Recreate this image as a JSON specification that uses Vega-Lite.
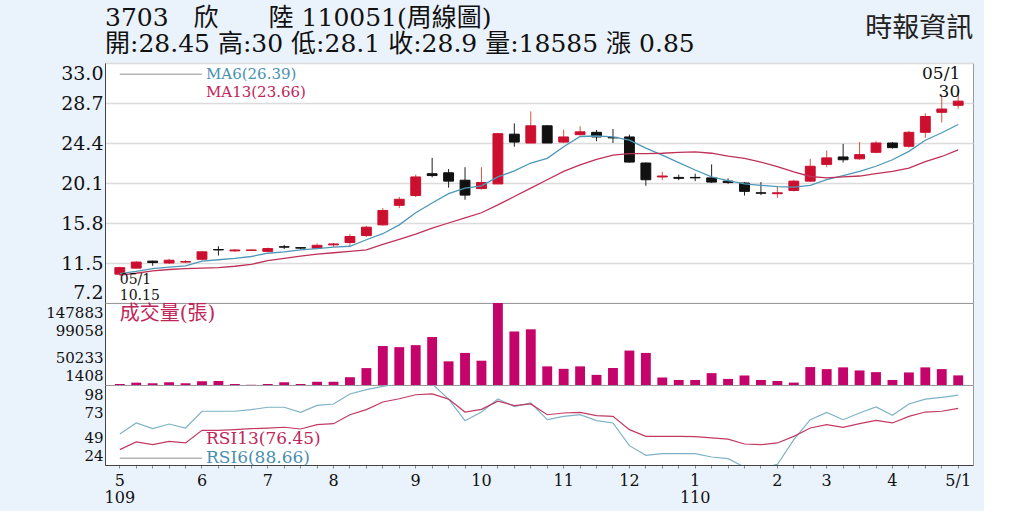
{
  "$schema": "https://vega.github.io/schema/vega-lite/v6.json",
  "background": "#eaf2fb",
  "padding": {"left": 45, "top": 5, "right": 10, "bottom": 5},
  "bounds": "flush",
  "title": {
    "text": ["3703　欣　　陸 110051(周線圖)", "開:28.45 高:30 低:28.1 收:28.9 量:18585 漲 0.85"],
    "anchor": "start",
    "frame": "group",
    "font": "DejaVu Serif, Noto Sans CJK TC",
    "fontSize": 25,
    "fontWeight": "normal",
    "color": "#111111",
    "lineHeight": 26,
    "offset": -42
  },
  "config": {
    "font": "DejaVu Serif, Noto Sans CJK TC",
    "view": {"fill": "#ffffff", "stroke": "#9a9a9a", "strokeWidth": 1},
    "axis": {
      "labelFont": "DejaVu Serif",
      "labelFontSize": 19,
      "labelColor": "#111111",
      "domainColor": "#444444",
      "ticks": false,
      "labelPadding": 2,
      "labelOverlap": false,
      "title": null,
      "grid": false
    }
  },
  "datasets": {
    "wk": [
      {"w": "2020-05-01", "o": 10.3, "h": 11.1, "l": 10.15, "c": 11.0, "v": 3200, "m6": 10.35, "m13": 10.2, "r6": 52.7, "r13": 38.2},
      {"w": "2020-05-08", "o": 10.95, "h": 11.7, "l": 10.9, "c": 11.6, "v": 5600, "m6": 10.6, "m13": 10.4, "r6": 62.9, "r13": 45.3},
      {"w": "2020-05-15", "o": 11.7, "h": 11.75, "l": 11.2, "c": 11.55, "v": 4500, "m6": 10.9, "m13": 10.65, "r6": 57.6, "r13": 42.8},
      {"w": "2020-05-22", "o": 11.5, "h": 11.95, "l": 11.4, "c": 11.8, "v": 6300, "m6": 11.05, "m13": 10.8, "r6": 61.9, "r13": 45.9},
      {"w": "2020-05-29", "o": 11.6, "h": 11.8, "l": 11.5, "c": 11.65, "v": 4500, "m6": 11.2, "m13": 10.9, "r6": 58.2, "r13": 44.4},
      {"w": "2020-06-05", "o": 11.9, "h": 12.8, "l": 11.8, "c": 12.7, "v": 8100, "m6": 11.7, "m13": 10.95, "r6": 73.7, "r13": 56.1},
      {"w": "2020-06-12", "o": 12.95, "h": 13.3, "l": 12.3, "c": 12.9, "v": 8600, "m6": 11.85, "m13": 11.0, "r6": 73.7, "r13": 56.1},
      {"w": "2020-06-19", "o": 12.8, "h": 13.0, "l": 12.7, "c": 12.9, "v": 3200, "m6": 12.0, "m13": 11.15, "r6": 73.7, "r13": 56.7},
      {"w": "2020-06-26", "o": 12.85, "h": 12.95, "l": 12.8, "c": 12.9, "v": 1800, "m6": 12.2, "m13": 11.35, "r6": 75.2, "r13": 57.6},
      {"w": "2020-07-03", "o": 12.75, "h": 13.15, "l": 12.7, "c": 13.05, "v": 3200, "m6": 12.55, "m13": 11.75, "r6": 77.4, "r13": 58.2},
      {"w": "2020-07-10", "o": 13.25, "h": 13.45, "l": 13.0, "c": 13.2, "v": 6300, "m6": 12.7, "m13": 12.0, "r6": 77.4, "r13": 58.9},
      {"w": "2020-07-17", "o": 13.15, "h": 13.2, "l": 13.0, "c": 13.1, "v": 3200, "m6": 12.9, "m13": 12.25, "r6": 72.7, "r13": 57.3},
      {"w": "2020-07-24", "o": 13.1, "h": 13.6, "l": 13.0, "c": 13.4, "v": 7200, "m6": 13.05, "m13": 12.45, "r6": 79.2, "r13": 61.3},
      {"w": "2020-07-31", "o": 13.45, "h": 13.65, "l": 13.25, "c": 13.55, "v": 7200, "m6": 13.2, "m13": 12.6, "r6": 80.4, "r13": 62.2},
      {"w": "2020-08-07", "o": 13.7, "h": 14.6, "l": 13.3, "c": 14.35, "v": 15300, "m6": 13.3, "m13": 12.75, "r6": 89.7, "r13": 70.5},
      {"w": "2020-08-14", "o": 14.45, "h": 15.5, "l": 14.3, "c": 15.35, "v": 31600, "m6": 14.0, "m13": 12.9, "r6": 93.7, "r13": 75.2},
      {"w": "2020-08-21", "o": 15.6, "h": 17.4, "l": 15.5, "c": 17.15, "v": 71000, "m6": 14.65, "m13": 13.5, "r6": 96.8, "r13": 82.3},
      {"w": "2020-08-28", "o": 17.7, "h": 18.6, "l": 17.4, "c": 18.35, "v": 69000, "m6": 15.6, "m13": 14.05, "r6": 99.5, "r13": 85.3},
      {"w": "2020-09-04", "o": 18.75, "h": 21.0, "l": 18.6, "c": 20.75, "v": 72600, "m6": 16.9, "m13": 14.6, "r6": 101, "r13": 89},
      {"w": "2020-09-11", "o": 21.1, "h": 22.8, "l": 20.7, "c": 20.9, "v": 87100, "m6": 17.95, "m13": 15.25, "r6": 99, "r13": 89.7},
      {"w": "2020-09-18", "o": 21.2, "h": 21.6, "l": 19.6, "c": 20.3, "v": 43700, "m6": 18.95, "m13": 15.8, "r6": 85, "r13": 85},
      {"w": "2020-09-25", "o": 20.4, "h": 21.8, "l": 18.3, "c": 18.8, "v": 58700, "m6": 19.55, "m13": 16.35, "r6": 65, "r13": 73},
      {"w": "2020-10-02", "o": 19.5, "h": 21.8, "l": 19.4, "c": 20.15, "v": 44800, "m6": 19.8, "m13": 16.9, "r6": 73, "r13": 75.5},
      {"w": "2020-10-09", "o": 20.0, "h": 25.5, "l": 20.0, "c": 25.4, "v": 147883, "m6": 20.75, "m13": 17.75, "r6": 85, "r13": 83},
      {"w": "2020-10-16", "o": 25.35, "h": 26.5, "l": 24.0, "c": 24.5, "v": 97000, "m6": 21.4, "m13": 18.65, "r6": 78, "r13": 79},
      {"w": "2020-10-23", "o": 24.4, "h": 27.8, "l": 24.4, "c": 26.25, "v": 100900, "m6": 22.25, "m13": 19.55, "r6": 81.5, "r13": 80.5},
      {"w": "2020-10-30", "o": 26.25, "h": 26.3, "l": 24.4, "c": 24.4, "v": 34700, "m6": 22.75, "m13": 20.45, "r6": 65.9, "r13": 70.5},
      {"w": "2020-11-06", "o": 24.5, "h": 25.85, "l": 24.4, "c": 25.05, "v": 30300, "m6": 24.0, "m13": 21.35, "r6": 69, "r13": 72.1},
      {"w": "2020-11-13", "o": 25.3, "h": 26.2, "l": 25.2, "c": 25.6, "v": 34700, "m6": 25.1, "m13": 22.05, "r6": 70.5, "r13": 72.7},
      {"w": "2020-11-20", "o": 25.55, "h": 25.8, "l": 24.6, "c": 25.05, "v": 19500, "m6": 25.15, "m13": 22.65, "r6": 65, "r13": 69.6},
      {"w": "2020-11-27", "o": 25.0, "h": 25.9, "l": 24.4, "c": 24.95, "v": 31600, "m6": 25.05, "m13": 23.1, "r6": 62.9, "r13": 69},
      {"w": "2020-12-04", "o": 25.05, "h": 25.3, "l": 22.3, "c": 22.35, "v": 62900, "m6": 24.7, "m13": 23.25, "r6": 41.9, "r13": 56.7},
      {"w": "2020-12-11", "o": 22.25, "h": 22.3, "l": 19.8, "c": 20.45, "v": 58700, "m6": 23.85, "m13": 23.25, "r6": 33, "r13": 50.5},
      {"w": "2020-12-18", "o": 20.75, "h": 21.3, "l": 20.4, "c": 20.85, "v": 14800, "m6": 23.1, "m13": 23.3, "r6": 34.5, "r13": 50.5},
      {"w": "2020-12-25", "o": 20.7, "h": 21.0, "l": 20.4, "c": 20.6, "v": 10400, "m6": 22.3, "m13": 23.4, "r6": 34.5, "r13": 50.5},
      {"w": "2021-01-01", "o": 20.7, "h": 21.1, "l": 20.3, "c": 20.65, "v": 10400, "m6": 21.5, "m13": 23.45, "r6": 34.5, "r13": 50.2},
      {"w": "2021-01-08", "o": 20.65, "h": 22.1, "l": 20.1, "c": 20.2, "v": 22600, "m6": 20.75, "m13": 23.3, "r6": 31.4, "r13": 49},
      {"w": "2021-01-15", "o": 20.3, "h": 20.6, "l": 20.0, "c": 20.15, "v": 12300, "m6": 20.35, "m13": 23.0, "r6": 29.9, "r13": 48},
      {"w": "2021-01-22", "o": 20.1, "h": 20.2, "l": 18.75, "c": 19.2, "v": 18400, "m6": 20.0, "m13": 22.75, "r6": 22, "r13": 43.4},
      {"w": "2021-01-29", "o": 19.05, "h": 20.2, "l": 18.8, "c": 19.0, "v": 10400, "m6": 19.85, "m13": 22.35, "r6": 21, "r13": 42.8},
      {"w": "2021-02-05", "o": 18.95, "h": 19.75, "l": 18.5, "c": 19.05, "v": 8600, "m6": 19.7, "m13": 21.85, "r6": 24.5, "r13": 44.4},
      {"w": "2021-02-19", "o": 19.3, "h": 20.45, "l": 19.2, "c": 20.3, "v": 5700, "m6": 19.65, "m13": 21.3, "r6": 47.4, "r13": 50.5},
      {"w": "2021-02-26", "o": 20.3, "h": 22.7, "l": 20.2, "c": 21.9, "v": 33400, "m6": 19.85, "m13": 20.8, "r6": 65.9, "r13": 58.2},
      {"w": "2021-03-05", "o": 22.1, "h": 23.6, "l": 21.8, "c": 22.8, "v": 29800, "m6": 20.45, "m13": 20.65, "r6": 72.7, "r13": 61.3},
      {"w": "2021-03-12", "o": 22.9, "h": 24.3, "l": 22.3, "c": 22.6, "v": 32900, "m6": 20.9, "m13": 20.75, "r6": 65.9, "r13": 58.9},
      {"w": "2021-03-19", "o": 22.7, "h": 24.5, "l": 22.6, "c": 23.15, "v": 27400, "m6": 21.35, "m13": 20.85, "r6": 72.1, "r13": 62.2},
      {"w": "2021-03-26", "o": 23.4, "h": 24.6, "l": 23.3, "c": 24.4, "v": 24400, "m6": 21.9, "m13": 21.1, "r6": 77.7, "r13": 65.3},
      {"w": "2021-04-02", "o": 24.4, "h": 24.5, "l": 23.8, "c": 23.9, "v": 10400, "m6": 22.6, "m13": 21.35, "r6": 70, "r13": 62.9},
      {"w": "2021-04-09", "o": 24.05, "h": 25.7, "l": 23.9, "c": 25.55, "v": 23800, "m6": 23.5, "m13": 21.7, "r6": 80.4, "r13": 69},
      {"w": "2021-04-16", "o": 25.55, "h": 27.6, "l": 24.95, "c": 27.25, "v": 32900, "m6": 24.7, "m13": 22.4, "r6": 85, "r13": 73},
      {"w": "2021-04-23", "o": 27.7, "h": 29.6, "l": 26.6, "c": 28.05, "v": 29800, "m6": 25.5, "m13": 22.95, "r6": 86.6, "r13": 73.7},
      {"w": "2021-04-30", "o": 28.45, "h": 30, "l": 28.1, "c": 28.9, "v": 18585, "m6": 26.39, "m13": 23.66, "r6": 88.66, "r13": 76.45}
    ]
  },
  "data": {"name": "wk"},
  "spacing": 0,
  "resolve": {"scale": {"x": "shared", "y": "independent"}},
  "vconcat": [
    {
      "width": 868,
      "height": 240,
      "encoding": {
        "x": {"field": "w", "type": "ordinal", "scale": {"paddingInner": 0.4, "paddingOuter": 0.6}, "axis": null}
      },
      "layer": [
        {
          "mark": {"type": "rule", "strokeWidth": 1},
          "encoding": {
            "y": {
              "field": "l", "type": "quantitative",
              "scale": {"domain": [7.2, 33], "nice": false, "zero": false},
              "axis": {"values": [7.2, 11.5, 15.8, 20.1, 24.4, 28.7, 33.0], "tickCount": 20, "format": ".1f", "grid": true, "gridColor": "#dcdcdc", "gridWidth": 1.5, "labelFlush": true, "labelFlushOffset": -1, "labelOverlap": false}
            },
            "y2": {"field": "h"},
            "color": {"condition": {"test": "datum.c >= datum.o", "value": "#d2573f"}, "value": "#222222"}
          }
        },
        {
          "mark": {"type": "bar", "strokeWidth": 1},
          "encoding": {
            "y": {"field": "o", "type": "quantitative"},
            "y2": {"field": "c"},
            "color": {"condition": {"test": "datum.c >= datum.o", "value": "#cc0f2f"}, "value": "#111111"},
            "stroke": {"condition": {"test": "datum.c >= datum.o", "value": "#cc0f2f"}, "value": "#111111"}
          }
        },
        {
          "mark": {"type": "line", "strokeWidth": 1.3, "color": "#4d98b8"},
          "encoding": {"y": {"field": "m6", "type": "quantitative"}}
        },
        {
          "mark": {"type": "line", "strokeWidth": 1.3, "color": "#bf3158"},
          "encoding": {"y": {"field": "m13", "type": "quantitative"}}
        },
        {
          "data": {"values": [{}]},
          "mark": {"type": "rule", "color": "#b5b5b5", "strokeWidth": 1.5},
          "encoding": {"x": {"datum": "2020-05-01"}, "x2": {"datum": "2020-06-05"}, "y": {"datum": 31.8}}
        },
        {
          "data": {"values": [{}]},
          "mark": {"type": "text", "align": "left", "baseline": "middle", "dx": 4, "fontSize": 15, "color": "#4a8fb0"},
          "encoding": {"x": {"datum": "2020-06-05"}, "y": {"datum": 31.8}, "text": {"value": "MA6(26.39)"}}
        },
        {
          "data": {"values": [{}]},
          "mark": {"type": "text", "align": "left", "baseline": "middle", "dx": 4, "fontSize": 15, "color": "#c0265a"},
          "encoding": {"x": {"datum": "2020-06-05"}, "y": {"datum": 29.9}, "text": {"value": "MA13(23.66)"}}
        },
        {
          "data": {"values": [{}]},
          "mark": {"type": "text", "align": "left", "baseline": "middle", "fontSize": 14, "color": "#111111"},
          "encoding": {"x": {"datum": "2020-05-01"}, "y": {"datum": 9.62}, "text": {"value": "05/1"}}
        },
        {
          "data": {"values": [{}]},
          "mark": {"type": "text", "align": "left", "baseline": "middle", "fontSize": 14, "color": "#111111"},
          "encoding": {"x": {"datum": "2020-05-01"}, "y": {"datum": 8.0}, "text": {"value": "10.15"}}
        },
        {
          "data": {"values": [{}]},
          "mark": {"type": "text", "align": "right", "baseline": "middle", "dx": 2, "fontSize": 17, "color": "#111111", "lineHeight": 18},
          "encoding": {"x": {"datum": "2021-04-30"}, "y": {"datum": 31.8}, "text": {"value": ["05/1", "30"]}}
        },
        {
          "data": {"values": [{}]},
          "mark": {"type": "text", "align": "right", "baseline": "middle", "dx": 15, "dy": -34, "fontSize": 27, "font": "Noto Sans CJK TC", "color": "#222222"},
          "encoding": {"x": {"datum": "2021-04-30"}, "y": {"datum": 33}, "text": {"value": "時報資訊"}}
        }
      ]
    },
    {
      "width": 868,
      "height": 82,
      "encoding": {
        "x": {"field": "w", "type": "ordinal", "axis": null}
      },
      "layer": [
        {
          "mark": {"type": "bar", "color": "#c4036b"},
          "encoding": {
            "y": {
              "field": "v", "type": "quantitative",
              "scale": {"domain": [1408, 147883], "nice": false, "zero": false},
              "axis": {"values": [1408, 50233, 99058, 147883], "tickCount": 20, "format": "d", "labelFontSize": 15, "labelFlush": true, "labelFlushOffset": -2, "labelOverlap": false}
            },
            "y2": {"datum": 1408}
          }
        },
        {
          "data": {"values": [{}]},
          "mark": {"type": "text", "align": "left", "baseline": "middle", "fontSize": 20, "color": "#c0265a"},
          "encoding": {"x": {"datum": "2020-05-01"}, "y": {"datum": 128200}, "text": {"value": "成交量(張)"}}
        }
      ]
    },
    {
      "width": 868,
      "height": 80,
      "encoding": {
        "x": {
          "field": "w", "type": "ordinal",
          "axis": {
            "ticks": true, "tickSize": 3, "tickColor": "#888888", "labelPadding": 4, "labelAngle": 0,
            "labelFontSize": 16, "labelLineHeight": 17, "labelBaseline": "top",
            "labelExpr": "indexof(['2020-05-01','2020-06-05','2020-07-03','2020-07-31','2020-09-04','2020-10-02','2020-11-06','2020-12-04','2021-01-01','2021-02-05','2021-03-05','2021-04-02','2021-04-30'], datum.value) < 0 ? '' : [['5','109'],'6','7','8','9','10','11','12',['1','110'],'2','3','4','5/1'][indexof(['2020-05-01','2020-06-05','2020-07-03','2020-07-31','2020-09-04','2020-10-02','2020-11-06','2020-12-04','2021-01-01','2021-02-05','2021-03-05','2021-04-02','2021-04-30'], datum.value)]"
          }
        }
      },
      "layer": [
        {
          "mark": {"type": "line", "strokeWidth": 1.2, "color": "#7fb2c4", "clip": true},
          "encoding": {
            "y": {
              "field": "r6", "type": "quantitative",
              "scale": {"domain": [24, 98], "nice": false, "zero": false},
              "axis": {"values": [24, 49, 73, 98], "tickCount": 20, "format": "d", "labelFontSize": 15, "labelFlush": true, "labelFlushOffset": -2, "labelOverlap": false}
            }
          }
        },
        {
          "mark": {"type": "line", "strokeWidth": 1.2, "color": "#c23a62", "clip": true},
          "encoding": {"y": {"field": "r13", "type": "quantitative"}}
        },
        {
          "data": {"values": [{}]},
          "mark": {"type": "rule", "color": "#b5b5b5", "strokeWidth": 1.5},
          "encoding": {"x": {"datum": "2020-05-01"}, "x2": {"datum": "2020-06-05"}, "y": {"datum": 30.2}}
        },
        {
          "data": {"values": [{}]},
          "mark": {"type": "text", "align": "left", "baseline": "middle", "dx": 4, "fontSize": 17, "color": "#c0265a"},
          "encoding": {"x": {"datum": "2020-06-05"}, "y": {"datum": 47.6}, "text": {"value": "RSI13(76.45)"}}
        },
        {
          "data": {"values": [{}]},
          "mark": {"type": "text", "align": "left", "baseline": "middle", "dx": 4, "fontSize": 17, "color": "#4a8fb0"},
          "encoding": {"x": {"datum": "2020-06-05"}, "y": {"datum": 30.2}, "text": {"value": "RSI6(88.66)"}}
        }
      ]
    }
  ]
}
